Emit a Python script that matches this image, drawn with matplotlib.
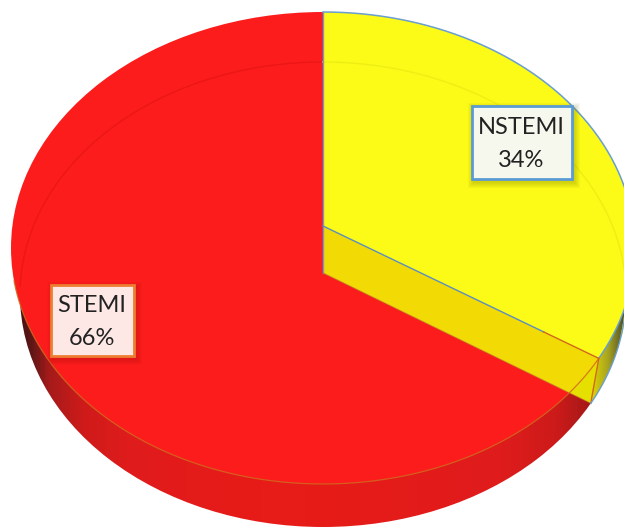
import numpy as np
import matplotlib
matplotlib.use('Agg')
from matplotlib import pyplot as plt
from matplotlib.colors import LinearSegmentedColormap
from matplotlib.patches import Ellipse, Polygon, Rectangle

categories = ['NSTEMI', 'STEMI']
values = [34, 66]

W, H = 624, 527
top = dict(cx=323, cy=248, rx=312, ry=236, ax=226)
bot = dict(cx=323, cy=294.5, rx=303, ry=232.5, ax=273)


def rim_angle(e, frac):
    # ray from the apex, hits the ellipse; returns ellipse parameter
    a = np.radians(frac * 360 - 90)
    v0 = (e['ax'] - e['cy']) / e['ry']
    c, s = np.cos(a), np.sin(a)
    t = v0 * -s + np.sqrt((v0 * s) ** 2 - v0 ** 2 + 1)
    return np.arctan2(v0 + t * s, t * c)


def pts(e, t):
    return np.column_stack([e['cx'] + e['rx'] * np.cos(t), e['cy'] + e['ry'] * np.sin(t)])


def ell(e, **kw):
    return Ellipse((e['cx'], e['cy']), 2 * e['rx'], 2 * e['ry'], **kw)


fig = plt.figure(figsize=(W / 100, H / 100), dpi=100)
ax = fig.add_axes([0, 0, 1, 1])
ax.set_xlim(0, W)
ax.set_ylim(H, 0)
ax.axis('off')

frac = values[0] / sum(values)
t_top = rim_angle(top, frac)
t_bot = rim_angle(bot, frac)
p_top = pts(top, np.array([t_top]))[0]
p_bot = pts(bot, np.array([t_bot]))[0]

# side wall, red part
red_side = LinearSegmentedColormap.from_list('rs', [
    (0.0, '#4a1212'), (0.02, '#5e1616'), (0.05, '#a51a1a'), (0.11, '#cf1a1a'), (0.19, '#e01c1c'),
    (0.45, '#e81b17'), (0.83, '#e01c1c'), (0.93, '#cc1a1a'), (1.0, '#9a1818')])
grad = np.linspace(0, 1, 400).reshape(1, -1)
im = ax.imshow(grad, extent=[18, 600, H, 0], cmap=red_side, aspect='auto', zorder=1)
clip = ell(bot, fc='none', ec='none', transform=ax.transData)
ax.add_patch(clip)
im.set_clip_path(clip)

# side wall, yellow part
yel_side = LinearSegmentedColormap.from_list('ys', ['#e0d800', '#a8a420', '#4c4c28'])
side = np.vstack([pts(top, np.linspace(np.radians(-20), t_top, 80)),
                  pts(bot, np.linspace(t_bot, np.radians(-20), 80))])
im2 = ax.imshow(grad, extent=[p_bot[0], W, H, 0], cmap=yel_side, aspect='auto', zorder=1.1)
clip2 = Polygon(side, closed=True, fc='none', ec='none', transform=ax.transData)
ax.add_patch(clip2)
im2.set_clip_path(clip2)

# red top
ax.add_patch(ell(top, fc='#fc1c1c', ec='none', zorder=2))

# yellow top
arc = np.linspace(-np.pi / 2, t_top, 200)
yellow = np.vstack([[top['cx'], top['ax']], pts(top, arc)])
ax.add_patch(Polygon(yellow, closed=True, fc='#fbfb17', ec='none', zorder=3))

# inner wall
wall = np.array([[top['cx'], top['ax']], p_top, p_bot, [bot['cx'], bot['ax']]])
ax.add_patch(Polygon(wall, closed=True, fc='#e6e000', ec='none', zorder=4))
w2 = Polygon(wall, closed=True, fc='#f2da05', ec='none', zorder=4.1)
ax.add_patch(w2)
c4 = ell(top, fc='none', ec='none', transform=ax.transData)
ax.add_patch(c4)
w2.set_clip_path(c4)

# faint see-through rim of the lower ellipse
back = pts(bot, np.linspace(np.radians(-178), -np.pi / 2, 200))
ax.plot(back[:, 0], back[:, 1], color='#ec1616', lw=1, zorder=3.5)
back = pts(bot, np.linspace(-np.pi / 2, np.radians(10), 200))
ax.plot(back[:, 0], back[:, 1], color='#eeee14', lw=1, zorder=3.5)

# outlines
blue = '#6a9fcf'
orange = '#d2691e'
ax.plot(*pts(top, arc).T, color=blue, lw=1.1, zorder=5)
ax.plot([top['cx'], bot['cx']], [top['cy'] - top['ry'], bot['ax']], color=blue, lw=1, zorder=5)
mid = wall[0] + 0.8 * (wall[1] - wall[0])
ax.plot([wall[0][0], mid[0]], [wall[0][1], mid[1]], color='#5a8fc0', lw=1, zorder=5)
ax.plot([mid[0], p_top[0]], [mid[1], p_top[1]], color=orange, lw=1, zorder=5)
ax.plot([wall[3][0], p_bot[0]], [wall[3][1], p_bot[1]], color='#c05030', lw=0.8, alpha=0.6, zorder=5)
ax.plot([p_top[0], p_bot[0]], [p_top[1], p_bot[1]], color=orange, lw=1, zorder=5)
front = pts(top, np.linspace(t_top, np.radians(172), 300))
ax.plot(front[:, 0], front[:, 1], color=orange, lw=0.9, alpha=0.85, zorder=5)
edge = pts(bot, np.linspace(t_bot, np.radians(-4), 60))
ax.plot(edge[:, 0], edge[:, 1], color=blue, lw=1, zorder=5)

# labels
boxes = [(471.5, 105.5, 100, 73, '#f6f8ee', '#5b9bd5', '#6b6b00'),
         (50.5, 284.5, 83, 71, '#fde8e6', '#ed7d31', '#a01010')]
for cat, val, (x, y, w, h, fc, ec, sc) in zip(categories, values, boxes):
    for g in range(6, 0, -1):
        ax.add_patch(Rectangle((x - g + 2, y - g + 3), w + 2 * g, h + 2 * g, fc=sc, ec='none', alpha=0.05, zorder=6))
    ax.add_patch(Rectangle((x, y), w, h, fc=fc, ec=ec, lw=2, zorder=7))
    ax.text(x + w / 2, y + h * 0.30, cat, ha='center', va='center', fontsize=17, family='Lato', color='#222222', zorder=8)
    ax.text(x + w / 2, y + h * 0.76, '%d%%' % val, ha='center', va='center', fontsize=17, family='Lato', color='#222222', zorder=8)

plt.savefig('out.png', dpi=100)
